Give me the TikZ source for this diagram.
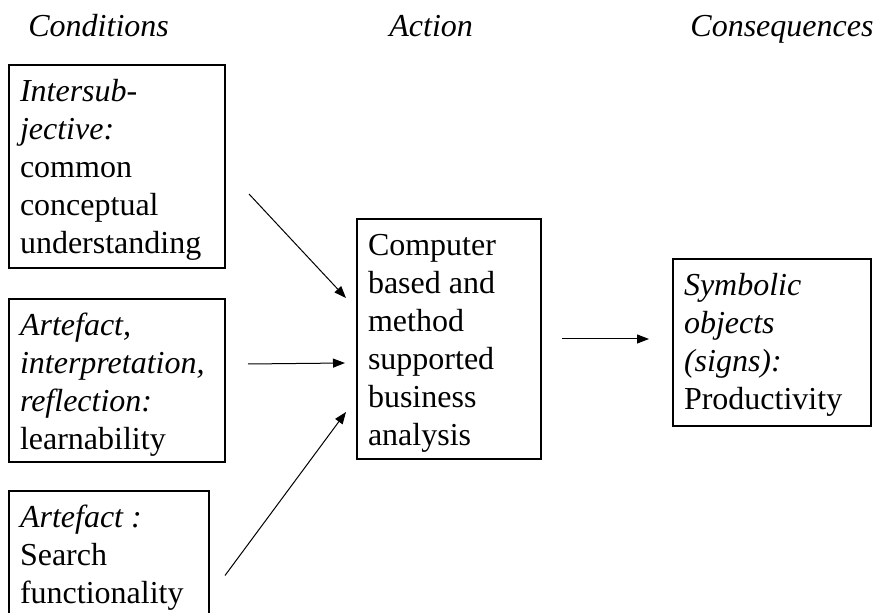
\documentclass[tikz,border=0pt]{standalone}
\usepackage{fontspec}
\setmainfont{Liberation Serif}
\usetikzlibrary{arrows.meta}
% top-aligned text block of a given width and height; the strut fixes the first baseline
\newcommand{\cellbody}[3]{\parbox[c][#2][t]{#1}{\raggedright\rule{0pt}{18.5pt}#3}}
\begin{document}
\begin{tikzpicture}[x=0.5pt,y=-0.5pt,
  every node/.style={font=\fontsize{16}{19}\selectfont},
  frame/.style={draw, line width=0.6pt, anchor=north west,
                inner xsep=5.5pt, inner ysep=0pt, outer sep=0pt},
  head/.style={anchor=base west, inner sep=0pt, font=\fontsize{16}{19}\selectfont\itshape},
  link/.style={line width=0.5pt, -{Triangle[length=6pt,width=4.5pt]}}]
\clip (0,0) rectangle (883,613);

% column headings
\node[head] (hcond) at (28,37) {Conditions};
\node[head] (hact)  at (389,37) {Action};
\node[head] (hcons) at (690,37) {Consequences};

% condition boxes
\node[frame] (b1) at (9,65)
  {\cellbody{97pt}{101.5pt}{\textit{Intersub-}\\\textit{jective:}\\common\\conceptual\\understanding}};
\node[frame] (b2) at (9,299)
  {\cellbody{97pt}{81.5pt}{\textit{Artefact,}\\\textit{interpretation,}\\\textit{reflection:}\\learnability}};
\node[frame] (b3) at (9,491)
  {\cellbody{89pt}{84.5pt}{\textit{Artefact :}\\Search\\functionality}};

% action box
\node[frame] (act) at (357,219)
  {\cellbody{81pt}{120pt}{Computer\\based and\\method\\supported\\business\\analysis}};

% consequence box
\node[frame] (cons) at (673,259)
  {\cellbody{88pt}{83.5pt}{\textit{Symbolic}\\\textit{objects}\\\textit{(signs):}\\Productivity}};

% arrow end points, placed relative to the boxes they join
\coordinate (a1s) at ([shift={(24,27.5)}]b1.east);
\coordinate (a1e) at ([shift={(-11,-41)}]act.west);
\coordinate (a2s) at ([shift={(23,-16.5)}]b2.east);
\coordinate (a2e) at ([shift={(-12,24)}]act.west);
\coordinate (a3s) at ([shift={(16,0)}]b3.east);
\coordinate (a3e) at ([shift={(-11,73)}]act.west);
\coordinate (a4s) at ([shift={(21,0)}]act.east);
\coordinate (a4e) at ([shift={(-24,-3.5)}]cons.west);

\draw[link] (a1s) -- (a1e);
\draw[link] (a2s) -- (a2e);
\draw[link] (a3s) -- (a3e);
\draw[link] (a4s) -- (a4e);
\end{tikzpicture}
\end{document}
